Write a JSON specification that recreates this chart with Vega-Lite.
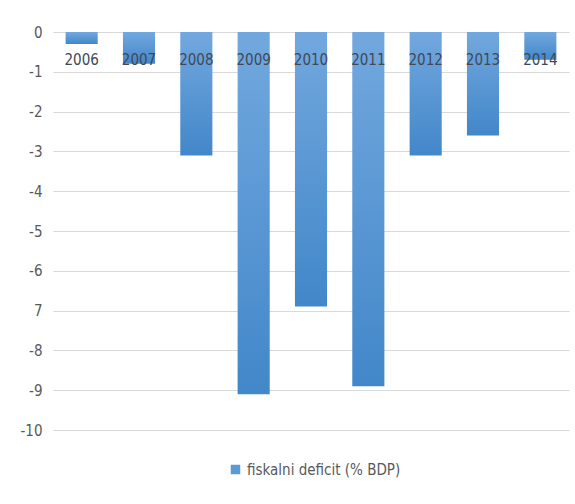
{
  "$schema": "https://vega.github.io/schema/vega-lite/v6.json",
  "width": 516,
  "height": 398,
  "autosize": "none",
  "padding": {"left": 53, "top": 32, "right": 6, "bottom": 74},
  "background": "white",
  "config": {
    "view": {"stroke": null},
    "font": "DejaVu Sans Condensed, Liberation Sans Narrow, sans-serif"
  },
  "data": {
    "values": [
      {"year": "2006", "deficit": -0.3, "series": "fiskalni deficit (% BDP)"},
      {"year": "2007", "deficit": -0.8, "series": "fiskalni deficit (% BDP)"},
      {"year": "2008", "deficit": -3.1, "series": "fiskalni deficit (% BDP)"},
      {"year": "2009", "deficit": -9.1, "series": "fiskalni deficit (% BDP)"},
      {"year": "2010", "deficit": -6.9, "series": "fiskalni deficit (% BDP)"},
      {"year": "2011", "deficit": -8.9, "series": "fiskalni deficit (% BDP)"},
      {"year": "2012", "deficit": -3.1, "series": "fiskalni deficit (% BDP)"},
      {"year": "2013", "deficit": -2.6, "series": "fiskalni deficit (% BDP)"},
      {"year": "2014", "deficit": -0.7, "series": "fiskalni deficit (% BDP)"}
    ]
  },
  "encoding": {
    "x": {
      "field": "year",
      "type": "nominal",
      "scale": {"paddingInner": 0.44, "paddingOuter": 0.22},
      "axis": null
    },
    "y": {
      "field": "deficit",
      "type": "quantitative",
      "scale": {"domain": [-10, 0], "nice": false},
      "axis": {
        "title": null,
        "values": [0, -1, -2, -3, -4, -5, -6, -7, -8, -9, -10],
        "labelOverlap": false,
        "labelExpr": "datum.value == -7 ? '7' : toString(datum.value)",
        "domain": false,
        "ticks": false,
        "labelPadding": 11,
        "labelFontSize": 15,
        "labelColor": "#595959",
        "gridColor": "#d9d9d9",
        "gridWidth": 1
      }
    }
  },
  "layer": [
    {
      "mark": {
        "type": "bar",
        "fill": {
          "gradient": "linear",
          "x1": 0, "y1": 0, "x2": 0, "y2": 1,
          "stops": [
            {"offset": 0, "color": "#72a8de"},
            {"offset": 1, "color": "#4287c9"}
          ]
        }
      }
    },
    {
      "mark": {"type": "bar", "opacity": 0},
      "encoding": {
        "color": {
          "field": "series",
          "type": "nominal",
          "scale": {"range": ["#5b9bd5"]},
          "legend": {
            "title": null,
            "orient": "none",
            "legendX": 175,
            "legendY": 430,
            "direction": "horizontal",
            "symbolType": "square",
            "symbolSize": 90,
            "symbolOpacity": 1,
            "labelFontSize": 15,
            "labelColor": "#595959"
          }
        }
      }
    },
    {
      "mark": {
        "type": "text",
        "baseline": "middle",
        "dy": 28,
        "fontSize": 15,
        "color": "#404858"
      },
      "encoding": {
        "y": {"datum": 0},
        "text": {"field": "year"}
      }
    }
  ]
}
